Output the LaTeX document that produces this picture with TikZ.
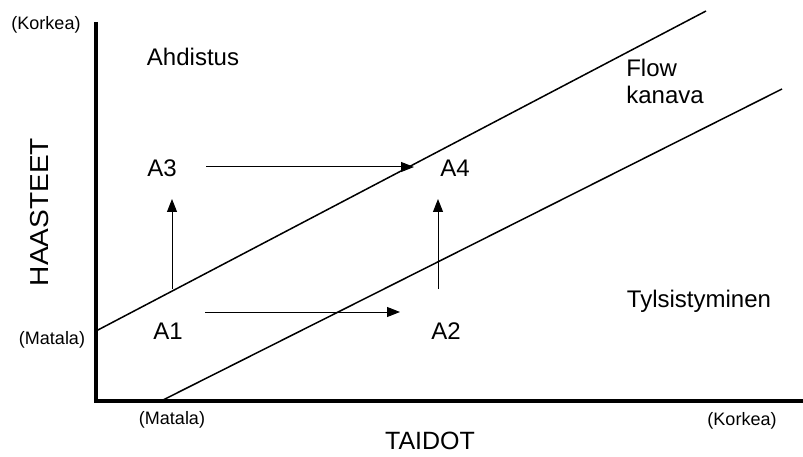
\documentclass[tikz,border=0pt]{standalone}
\usepackage{fontspec}
\setmainfont{Liberation Sans}
\usetikzlibrary{arrows.meta}
\begin{document}
\begin{tikzpicture}[x=1pt,y=-1pt,
  big/.style={font=\fontsize{24}{27}\selectfont, inner sep=0pt},
  small/.style={font=\fontsize{18}{21}\selectfont, inner sep=0pt},
  axis/.style={line width=4pt},
  diag/.style={line width=1.5pt},
  arr/.style={line width=1pt, -{Triangle[length=13pt,width=10pt]}}]
\useasboundingbox (0,0) rectangle (803,457);
% axes
\coordinate (ytop) at (96,22);
\coordinate (orig) at (96,401);
\coordinate (xend) at (803,401);
\draw[axis, line cap=butt] (ytop) -- (orig) -- (xend);
% diagonals
\coordinate (u1) at (96,331);
\coordinate (u2) at (706,11);
\coordinate (l1) at (161,401);
\coordinate (l2) at (782,89);
\draw[diag] (u1) -- (u2);
\draw[diag] (l1) -- (l2);
% labels
\node[small] (ktop) at (46,25) {(Korkea)};
\node[small] (mleft) at (52,340) {(Matala)};
\node[small] (mbot) at (172,420) {(Matala)};
\node[small] (kbot) at (742,421) {(Korkea)};
\node[big, font=\fontsize{25}{28}\selectfont] (tai) at (430,441) {TAIDOT};
\node[big, font=\fontsize{26}{29}\selectfont, rotate=90] (haa) at (40,212) {\scalebox{1.08}[1]{HAASTEET}};
\node[big] (ahd) at (193,57) {Ahdistus};
\node[big, align=left] (flow) at (665,81) {Flow\\kanava};
\node[big] (tyl) at (699,301) {Tylsistyminen};
\node[big] (A3) at (162,168) {A3};
\node[big] (A4) at (455,168) {A4};
\node[big] (A1) at (168,331) {A1};
\node[big] (A2) at (446,331) {A2};
% arrows
\coordinate (a34s) at (206,167);
\coordinate (a34e) at (414,167);
\coordinate (a12s) at (205,312);
\coordinate (a12e) at (400,312);
\coordinate (a13s) at (172,289);
\coordinate (a13e) at (172,199);
\coordinate (a24s) at (438,289);
\coordinate (a24e) at (438,199);
\draw[arr] (a34s) -- (a34e);
\draw[arr] (a12s) -- (a12e);
\draw[arr] (a13s) -- (a13e);
\draw[arr] (a24s) -- (a24e);
\end{tikzpicture}
\end{document}
